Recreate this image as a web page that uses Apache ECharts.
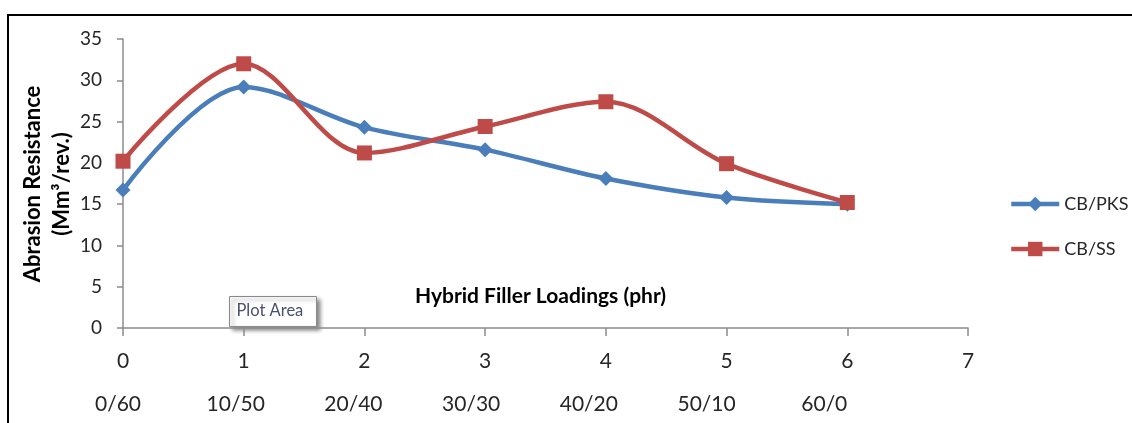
<!DOCTYPE html>
<html>
<head>
<meta charset="utf-8">
<title>Abrasion Resistance vs Hybrid Filler Loadings</title>
<script src="https://cdn.jsdelivr.net/npm/echarts@6/dist/echarts.min.js"></script>
<style>
  html, body { margin: 0; padding: 0; background: #fff; }
  #chart { width: 1132px; height: 423px; }
</style>
</head>
<body>
<div id="chart"></div>
<script>
// Sample index along the x axis and the CB/filler ratio under each index
const sampleIndex = [0, 1, 2, 3, 4, 5, 6];
const loadingLabels = ['0/60', '10/50', '20/40', '30/30', '40/20', '50/10', '60/0'];
const xTickValues = [0, 1, 2, 3, 4, 5, 6, 7];
const yTickValues = [0, 5, 10, 15, 20, 25, 30, 35];

// Abrasion resistance (Mm³/rev.)
const cbPks = [16.7, 29.2, 24.3, 21.6, 18.1, 15.8, 15.0];
const cbSs  = [20.2, 32.0, 21.2, 24.4, 27.4, 19.9, 15.2];

const FONT = 'Lato, "Open Sans", "Noto Sans", sans-serif';
const TEXT = '#262626';
const AXIS = '#8c8c8c';
const BLUE = '#4A7EBB';
const RED = '#BE4B48';

function pairs(xs, ys) { return xs.map((x, i) => [x, ys[i]]); }

// second-row labels sit a little left of their tick, drifting further left along the axis
const rich = { a: { fontFamily: FONT, fontSize: 21, color: TEXT, lineHeight: 43 } };
loadingLabels.forEach((_, i) => {
  const shift = 5 + 3 * i;
  rich['b' + i] = { fontFamily: FONT, fontSize: 21, color: TEXT, lineHeight: 43, padding: [0, shift * 2, 0, 0] };
});

const chart = echarts.init(document.getElementById('chart'), null, { renderer: 'canvas' });
chart.setOption({
  backgroundColor: '#ffffff',
  animation: false,
  textStyle: { fontFamily: FONT },
  grid: { left: 123, right: 164, top: 39, bottom: 95 },
  legend: {
    orient: 'vertical',
    left: 1009,
    top: 195,
    padding: 0,
    itemWidth: 48,
    itemHeight: 18,
    itemGap: 27,
    itemTextGap: 3,
    textStyle: { fontFamily: FONT, fontSize: 18, color: TEXT },
    data: [
      { name: 'CB/PKS', lineStyle: { width: 4.5 } },
      { name: 'CB/SS', lineStyle: { width: 4.5 } }
    ]
  },
  xAxis: {
    type: 'value',
    min: 0,
    max: 7,
    interval: 1,
    name: 'Hybrid Filler Loadings (phr)',
    nameLocation: 'middle',
    nameGap: -42,
    nameTextStyle: { fontFamily: FONT, fontSize: 21, fontWeight: 'bold', color: '#000', padding: [0, 10, 0, 0] },
    axisLine: { show: true, onZero: false, lineStyle: { color: AXIS, width: 1.5 } },
    axisTick: { show: true, length: 8, lineStyle: { color: AXIS, width: 1.5 } },
    splitLine: { show: false },
    axisLabel: {
      margin: 12,
      verticalAlign: 'top',
      showMaxLabel: true,
      formatter: function (v) {
        const i = sampleIndex.indexOf(v);
        const top = '{a|' + xTickValues[v] + '}';
        return i >= 0 ? top + '\n{b' + i + '|' + loadingLabels[i] + '}' : top;
      },
      rich: rich
    }
  },
  yAxis: {
    type: 'value',
    min: 0,
    max: 35,
    interval: 5,
    axisLine: { show: true, lineStyle: { color: AXIS, width: 1.5 } },
    axisTick: { show: true, length: 6, lineStyle: { color: AXIS, width: 1.5 } },
    splitLine: { show: false },
    axisLabel: {
      margin: 21,
      fontFamily: FONT,
      fontSize: 19,
      color: TEXT,
      formatter: v => String(yTickValues[yTickValues.indexOf(v)])
    }
  },
  series: [
    {
      name: 'CB/PKS',
      type: 'line',
      data: pairs(sampleIndex, cbPks),
      smooth: 0.33,
      symbol: 'diamond',
      symbolSize: 15,
      lineStyle: { color: BLUE, width: 4.5 },
      itemStyle: { color: BLUE },
      z: 2
    },
    {
      name: 'CB/SS',
      type: 'line',
      data: pairs(sampleIndex, cbSs),
      smooth: 0.33,
      symbol: 'rect',
      symbolSize: 15,
      lineStyle: { color: RED, width: 4.5 },
      itemStyle: { color: RED },
      z: 3
    }
  ],
  graphic: [
    // frame lines along the top and left edges
    { type: 'line', shape: { x1: 7, y1: 15, x2: 1132, y2: 15 }, style: { stroke: '#000', lineWidth: 2 }, z: 10 },
    { type: 'line', shape: { x1: 8, y1: 14, x2: 8, y2: 423 }, style: { stroke: '#000', lineWidth: 2 }, z: 10 },
    // vertical title of the value axis
    {
      type: 'text',
      x: 47,
      y: 184,
      rotation: Math.PI / 2,
      z: 10,
      style: {
        text: 'Abrasion Resistance\n(Mm³/rev.)',
        align: 'center',
        verticalAlign: 'middle',
        fontFamily: FONT,
        fontSize: 22,
        fontWeight: 'bold',
        lineHeight: 29,
        fill: '#000'
      }
    },
    // "Plot Area" hover tag
    {
      type: 'group',
      left: 229,
      top: 296,
      z: 20,
      children: [
        { type: 'rect', shape: { x: 0, y: 0, width: 87, height: 30 },
          style: { fill: '#fff', stroke: '#8a8a8a', lineWidth: 1, shadowBlur: 4, shadowOffsetX: 3, shadowOffsetY: 3, shadowColor: 'rgba(0,0,0,0.45)' } },
        { type: 'text', x: 7, y: 6,
          style: { text: 'Plot Area', fontFamily: FONT, fontSize: 16.5, fill: '#4a4f6e' } }
      ]
    }
  ]
});
</script>
</body>
</html>
